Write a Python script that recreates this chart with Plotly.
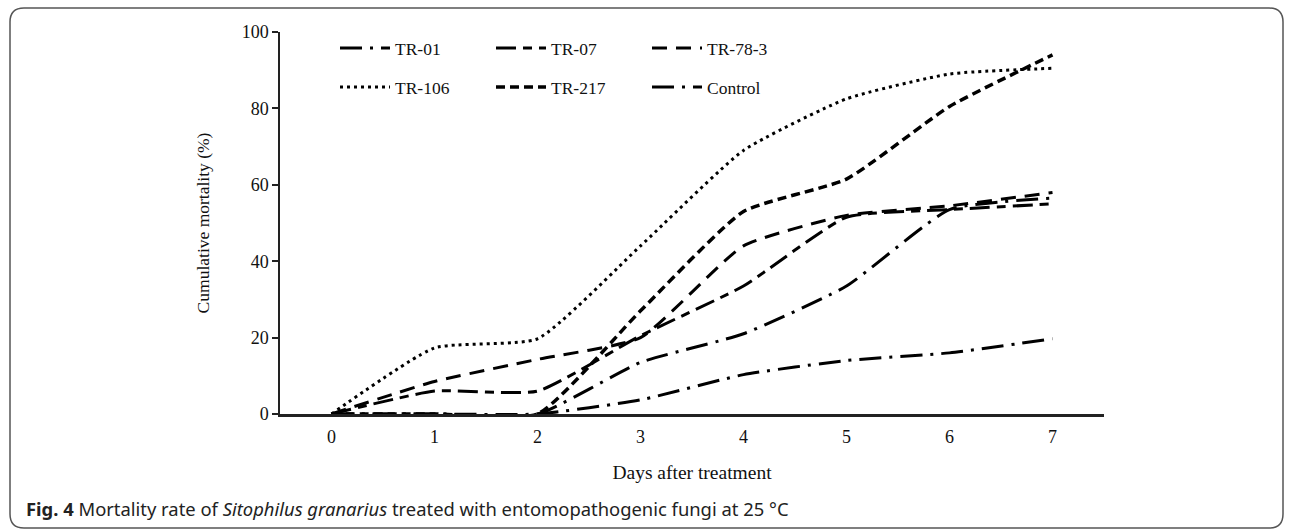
import plotly.graph_objects as go

# ---- data ----
days = [0, 1, 2, 3, 4, 5, 6, 7]
tick_labels = ["0", "1", "2", "3", "4", "5", "6", "7"]
tr01 = [0, 0, 0, 13.5, 21, 33.5, 53.5, 56.5]
tr07 = [0, 6, 6, 20.5, 33.5, 51.5, 53.5, 55]
tr783 = [0, 8.5, 14.3, 20, 44, 52, 54.5, 58]
tr106 = [0, 17.3, 19.7, 44, 69, 82.5, 89, 90.5]
tr217 = [0, 0, 0, 27, 53, 61.5, 80.5, 94]
control = [0, 0, 0, 3.7, 10.3, 14, 16, 19.7]

W, H = 1292, 529
L, R, T, B = 280, 188, 32, 115
PW, PH = W - L - R, H - T - B

def px(x):
    return (x - L) / PW

def py(y):
    return (H - B - y) / PH

serif = "Liberation Serif, Times New Roman, serif"

styles = [
    ("TR-01", tr01, "22px,8px,3px,8px", 3, "legend"),
    ("TR-07", tr07, "20px,7px,9px,7px", 3, "legend"),
    ("TR-78-3", tr783, "15px,9px", 3, "legend"),
    ("TR-106", tr106, "3px,4px", 3, "legend2"),
    ("TR-217", tr217, "9px,5px", 3.5, "legend2"),
    ("Control", control, "22px,8px,3px,8px", 3, "legend2"),
]

fig = go.Figure()
for name, vals, dash, w, lg in styles:
    fig.add_trace(go.Scatter(
        x=days, y=vals, name=name, mode="lines",
        line=dict(color="black", width=w, dash=dash, shape="spline", smoothing=0.5),
        legend=lg, cliponaxis=False,
    ))

legend_common = dict(
    orientation="h", xanchor="left", yanchor="middle",
    font=dict(family=serif, size=17.5, color="#111"),
    bgcolor="rgba(0,0,0,0)", entrywidth=91, entrywidthmode="pixels",
    itemwidth=50, tracegroupgap=0,
)

fig.update_layout(
    width=W, height=H,
    margin=dict(l=L, r=R, t=T, b=B, pad=0),
    paper_bgcolor="white", plot_bgcolor="white",
    showlegend=True,
    legend=dict(x=px(335), y=py(48), **legend_common),
    legend2=dict(x=px(335), y=py(87), **legend_common),
    xaxis=dict(
        range=[-0.5, 7.5], tickvals=days, ticktext=tick_labels,
        showgrid=False, zeroline=False, showline=True, linecolor="#222", linewidth=2.5,
        ticks="", ticklabelstandoff=5, tickfont=dict(family=serif, size=18, color="#111"),
        title=dict(text="Days after treatment", font=dict(family=serif, size=19.5, color="#111"), standoff=20),
        fixedrange=True,
    ),
    yaxis=dict(
        range=[0, 100], dtick=20,
        showgrid=False, zeroline=False, showline=True, linecolor="#222", linewidth=1.5,
        ticks="outside", ticklen=6, tickwidth=1.5, tickcolor="#222",
        tickfont=dict(family=serif, size=18, color="#111"),
        title=dict(text="Cumulative mortality (%)", font=dict(family=serif, size=17.5, color="#111"), standoff=28),
        fixedrange=True,
    ),
)

# rounded frame around the figure
x0, y0, x1, y1, r = px(10), py(8), px(1283), py(528), 14
rx, ry = r / PW, r / PH
path = (f"M {x0+rx},{y0} L {x1-rx},{y0} Q {x1},{y0} {x1},{y0-ry} "
        f"L {x1},{y1+ry} Q {x1},{y1} {x1-rx},{y1} L {x0+rx},{y1} Q {x0},{y1} {x0},{y1+ry} "
        f"L {x0},{y0-ry} Q {x0},{y0} {x0+rx},{y0} Z")
fig.add_shape(type="path", path=path, xref="paper", yref="paper",
              line=dict(color="#555", width=1.5), layer="below")

fig.add_annotation(
    x=px(24), y=py(508), xref="paper", yref="paper", xanchor="left", yanchor="middle",
    showarrow=False, align="left",
    text="<b>Fig. 4</b> Mortality rate of <i>Sitophilus granarius</i> treated with entomopathogenic fungi at 25 °C",
    font=dict(family="Noto Sans, Open Sans, sans-serif", size=18.4, color="#222"),
)

fig.write_html("out.html")
